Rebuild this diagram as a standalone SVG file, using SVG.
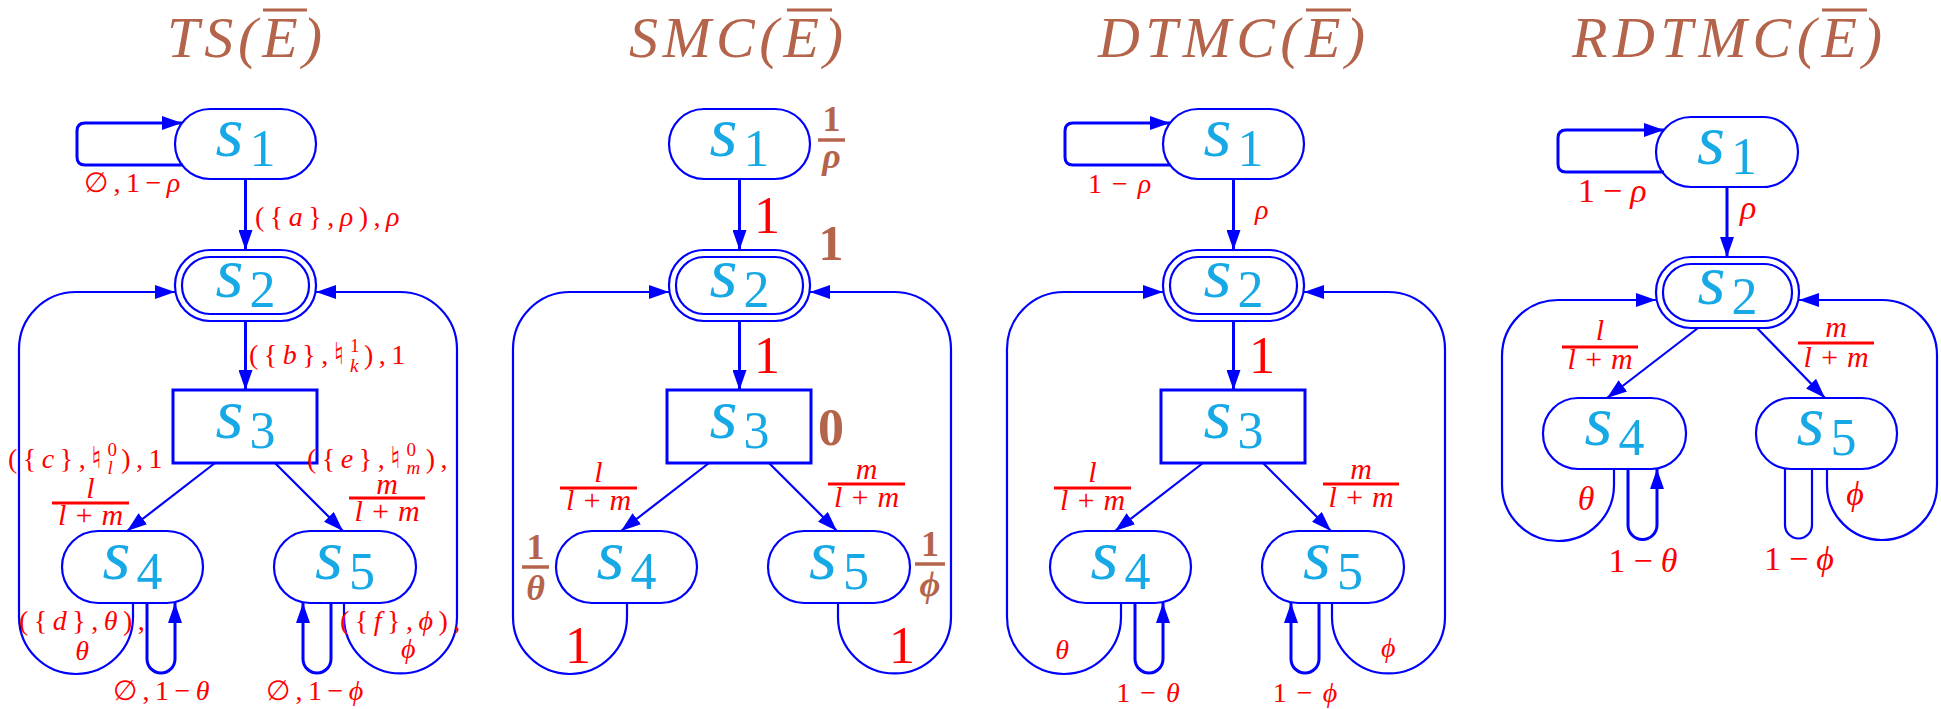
<svg xmlns="http://www.w3.org/2000/svg" width="1941" height="709" viewBox="0 0 1941 709">
<style>
.n{fill:none;stroke:#0000FF;stroke-width:2.2}
.n3{fill:none;stroke:#0000FF;stroke-width:3}
.c{fill:none;stroke:#0000FF;stroke-width:2.2}
.ct{stroke-width:3}
.nl{font-family:"Liberation Serif","DejaVu Serif",serif;font-size:72px;fill:#17A9E6;text-anchor:middle}
.nl .s{font-style:italic}
.sub{font-size:52px}
.t{font-family:"Liberation Serif",serif;font-style:italic;font-size:58px;fill:#B4644A}
.ol{stroke:#B4644A;stroke-width:3}
.e{font-family:"Liberation Serif","DejaVu Serif",serif;font-size:28px;fill:#FF0000;letter-spacing:5.5px}
.e3{letter-spacing:10px}
.e4{font-size:34px;letter-spacing:8px}
.m{text-anchor:middle}
.i{font-style:italic}
.big{font-family:"Liberation Serif",serif;font-size:52px;fill:#FF0000;text-anchor:middle}
.b{font-family:"Liberation Serif","DejaVu Serif",serif;font-weight:bold;fill:#B4644A;text-anchor:middle}
.fb{stroke:#FF0000;stroke-width:3}
.bb{stroke:#B4644A;stroke-width:3.5}
.fr{font-family:"Liberation Serif",serif;font-style:italic;font-size:30px;fill:#FF0000;text-anchor:middle}
.ss{font-size:19px}
.nat{font-size:30px}
</style>
<defs>
<marker id="ah" markerUnits="userSpaceOnUse" markerWidth="20" markerHeight="14" refX="20" refY="7" orient="auto">
<path d="M0,0 L20,7 L0,14 z" fill="#0000FF"/>
</marker>
</defs>

<!-- Titles -->
<g id="titles">
<text class="t" x="167" y="57" textLength="155" lengthAdjust="spacing">TS(E)</text>
<line class="ol" x1="263" y1="10" x2="307" y2="10"/>
<text class="t" x="629" y="57" textLength="214" lengthAdjust="spacing">SMC(E)</text>
<line class="ol" x1="787" y1="10" x2="832" y2="10"/>
<text class="t" x="1098" y="57" textLength="267" lengthAdjust="spacing">DTMC(E)</text>
<line class="ol" x1="1306" y1="10" x2="1351" y2="10"/>
<text class="t" x="1572" y="57" textLength="310" lengthAdjust="spacing">RDTMC(E)</text>
<line class="ol" x1="1822" y1="10" x2="1867" y2="10"/>
</g>

<!-- ===== Panel 1: TS ===== -->
<g id="ts">
<g id="ts-s1"><rect class="n" x="175" y="109" width="141" height="70" rx="35"/><text class="nl" x="245.5" y="156"><tspan class="s">s</tspan><tspan class="sub" dx="6" dy="10">1</tspan></text></g>
<g id="ts-s2"><rect class="n" x="175" y="250" width="141" height="71" rx="35"/><rect class="n" x="182" y="257" width="127" height="57" rx="28"/><text class="nl" x="245.5" y="297"><tspan class="s">s</tspan><tspan class="sub" dx="6" dy="10">2</tspan></text></g>
<g id="ts-s3"><rect class="n3" x="173" y="390" width="144" height="73"/><text class="nl" x="245.5" y="438"><tspan class="s">s</tspan><tspan class="sub" dx="6" dy="10">3</tspan></text></g>
<g id="ts-s4"><rect class="n" x="62" y="531" width="141" height="72" rx="36"/><text class="nl" x="132.5" y="579"><tspan class="s">s</tspan><tspan class="sub" dx="6" dy="10">4</tspan></text></g>
<g id="ts-s5"><rect class="n" x="274" y="531" width="142" height="72" rx="36"/><text class="nl" x="345" y="579"><tspan class="s">s</tspan><tspan class="sub" dx="6" dy="10">5</tspan></text></g>
<g id="ts-edges">
<path class="c ct" d="M183,165 H85 Q77,165 77,157 V131 Q77,123 85,123 H182" marker-end="url(#ah)"/>
<path class="c ct" d="M245.5,179 V250" marker-end="url(#ah)"/>
<path class="c ct" d="M245.5,321 V390" marker-end="url(#ah)"/>
<path class="c" d="M215,463 L127,531" marker-end="url(#ah)"/>
<path class="c" d="M275,463 L343,531" marker-end="url(#ah)"/>
<path class="c" d="M133,603 V617 A57,57 0 0 1 19,617 V349 A57,57 0 0 1 76,292 H175" marker-end="url(#ah)"/>
<path class="c" d="M344,603 V617 A56.5,56.5 0 0 0 457,617 V349 A57,57 0 0 0 400,292 H316" marker-end="url(#ah)"/>
<path class="c ct" d="M147,603 V659 A14,14 0 0 0 175,659 V603" marker-end="url(#ah)"/>
<path class="c ct" d="M331,603 V659 A14,14 0 0 1 303,659 V603" marker-end="url(#ah)"/>
</g>
<g id="ts-labels">
<text class="e" x="84" y="192">∅,1−<tspan class="i">ρ</tspan></text>
<text class="e" x="255" y="226">({<tspan class="i">a</tspan>},<tspan class="i">ρ</tspan>),<tspan class="i">ρ</tspan></text>
<text class="e" x="249" y="364">({<tspan class="i">b</tspan>},<tspan class="nat">♮</tspan><tspan class="ss" dy="-12">1</tspan><tspan class="ss i" dx="-15" dy="20">k</tspan><tspan dy="-8">),1</tspan></text>
<text class="e" x="8" y="468">({<tspan class="i">c</tspan>},<tspan class="nat">♮</tspan><tspan class="ss" dy="-12">0</tspan><tspan class="ss i" dx="-15" dy="18">l</tspan><tspan dx="3" dy="-6">),1</tspan></text>
<text class="e" x="307" y="468">({<tspan class="i">e</tspan>},<tspan class="nat">♮</tspan><tspan class="ss" dy="-12">0</tspan><tspan class="ss i" dx="-15" dy="18">m</tspan><tspan dy="-6">),</tspan></text>
<text class="fr" x="90.5" y="498">l</text><line class="fb" x1="52" y1="503" x2="129" y2="503"/><text class="fr" x="90.5" y="525">l + m</text>
<text class="fr" x="387" y="494">m</text><line class="fb" x1="349" y1="498" x2="425" y2="498"/><text class="fr" x="387" y="521">l + m</text>
<text class="e" x="19" y="630">({<tspan class="i">d</tspan>},<tspan class="i">θ</tspan>),</text>
<text class="e m i" x="85" y="660">θ</text>
<text class="e" x="340" y="630">({<tspan class="i">f</tspan>},<tspan class="i">ϕ</tspan>),</text>
<text class="e m i" x="411" y="658">ϕ</text>
<text class="e" x="113" y="700">∅,1−<tspan class="i">θ</tspan></text>
<text class="e" x="266" y="700">∅,1−<tspan class="i">ϕ</tspan></text>
</g>
</g>

<!-- ===== Panel 2: SMC ===== -->
<g id="smc" transform="translate(494,0)">
<g id="smc-s1"><rect class="n" x="175" y="109" width="141" height="70" rx="35"/><text class="nl" x="245.5" y="156"><tspan class="s">s</tspan><tspan class="sub" dx="6" dy="10">1</tspan></text></g>
<g id="smc-s2"><rect class="n" x="175" y="250" width="141" height="71" rx="35"/><rect class="n" x="182" y="257" width="127" height="57" rx="28"/><text class="nl" x="245.5" y="297"><tspan class="s">s</tspan><tspan class="sub" dx="6" dy="10">2</tspan></text></g>
<g id="smc-s3"><rect class="n3" x="173" y="390" width="144" height="73"/><text class="nl" x="245.5" y="438"><tspan class="s">s</tspan><tspan class="sub" dx="6" dy="10">3</tspan></text></g>
<g id="smc-s4"><rect class="n" x="62" y="531" width="141" height="72" rx="36"/><text class="nl" x="132.5" y="579"><tspan class="s">s</tspan><tspan class="sub" dx="6" dy="10">4</tspan></text></g>
<g id="smc-s5"><rect class="n" x="274" y="531" width="142" height="72" rx="36"/><text class="nl" x="345" y="579"><tspan class="s">s</tspan><tspan class="sub" dx="6" dy="10">5</tspan></text></g>
<g id="smc-edges">
<path class="c ct" d="M245.5,179 V250" marker-end="url(#ah)"/>
<path class="c ct" d="M245.5,321 V390" marker-end="url(#ah)"/>
<path class="c" d="M215,463 L127,531" marker-end="url(#ah)"/>
<path class="c" d="M275,463 L343,531" marker-end="url(#ah)"/>
<path class="c" d="M133,603 V617 A57,57 0 0 1 19,617 V349 A57,57 0 0 1 76,292 H175" marker-end="url(#ah)"/>
<path class="c" d="M344,603 V617 A56.5,56.5 0 0 0 457,617 V349 A57,57 0 0 0 400,292 H316" marker-end="url(#ah)"/>
</g>
<g id="smc-labels">
<text class="big" x="273" y="233">1</text>
<text class="big" x="273" y="373">1</text>
<text class="b" x="337.5" y="131" font-size="36">1</text><line class="bb" x1="324" y1="140" x2="351" y2="140"/><text class="b i" x="337.5" y="168" font-size="36">ρ</text>
<text class="b" x="337" y="260" font-size="50">1</text>
<text class="b" x="337" y="445" font-size="52">0</text>
<text class="fr" x="104.5" y="482">l</text><line class="fb" x1="66" y1="488" x2="143" y2="488"/><text class="fr" x="104.5" y="510">l + m</text>
<text class="fr" x="372.5" y="479">m</text><line class="fb" x1="334" y1="484" x2="411" y2="484"/><text class="fr" x="372.5" y="507">l + m</text>
<text class="b" x="41.5" y="559" font-size="36">1</text><line class="bb" x1="28" y1="567" x2="55" y2="567"/><text class="b i" x="41.5" y="600" font-size="36">θ</text>
<text class="b" x="436" y="556" font-size="36">1</text><line class="bb" x1="421" y1="564" x2="451" y2="564"/><text class="b i" x="436" y="596" font-size="36">ϕ</text>
<text class="big" x="84" y="663">1</text>
<text class="big" x="408" y="663">1</text>
</g>
</g>

<!-- ===== Panel 3: DTMC ===== -->
<g id="dtmc" transform="translate(988,0)">
<g id="dtmc-s1"><rect class="n" x="175" y="109" width="141" height="70" rx="35"/><text class="nl" x="245.5" y="156"><tspan class="s">s</tspan><tspan class="sub" dx="6" dy="10">1</tspan></text></g>
<g id="dtmc-s2"><rect class="n" x="175" y="250" width="141" height="71" rx="35"/><rect class="n" x="182" y="257" width="127" height="57" rx="28"/><text class="nl" x="245.5" y="297"><tspan class="s">s</tspan><tspan class="sub" dx="6" dy="10">2</tspan></text></g>
<g id="dtmc-s3"><rect class="n3" x="173" y="390" width="144" height="73"/><text class="nl" x="245.5" y="438"><tspan class="s">s</tspan><tspan class="sub" dx="6" dy="10">3</tspan></text></g>
<g id="dtmc-s4"><rect class="n" x="62" y="531" width="141" height="72" rx="36"/><text class="nl" x="132.5" y="579"><tspan class="s">s</tspan><tspan class="sub" dx="6" dy="10">4</tspan></text></g>
<g id="dtmc-s5"><rect class="n" x="274" y="531" width="142" height="72" rx="36"/><text class="nl" x="345" y="579"><tspan class="s">s</tspan><tspan class="sub" dx="6" dy="10">5</tspan></text></g>
<g id="dtmc-edges">
<path class="c ct" d="M183,165 H85 Q77,165 77,157 V131 Q77,123 85,123 H182" marker-end="url(#ah)"/>
<path class="c ct" d="M245.5,179 V250" marker-end="url(#ah)"/>
<path class="c ct" d="M245.5,321 V390" marker-end="url(#ah)"/>
<path class="c" d="M215,463 L127,531" marker-end="url(#ah)"/>
<path class="c" d="M275,463 L343,531" marker-end="url(#ah)"/>
<path class="c" d="M133,603 V617 A57,57 0 0 1 19,617 V349 A57,57 0 0 1 76,292 H175" marker-end="url(#ah)"/>
<path class="c" d="M344,603 V617 A56.5,56.5 0 0 0 457,617 V349 A57,57 0 0 0 400,292 H316" marker-end="url(#ah)"/>
<path class="c ct" d="M147,603 V659 A14,14 0 0 0 175,659 V603" marker-end="url(#ah)"/>
<path class="c ct" d="M331,603 V659 A14,14 0 0 1 303,659 V603" marker-end="url(#ah)"/>
</g>
<g id="dtmc-labels">
<text class="e e3" x="100" y="193">1−<tspan class="i">ρ</tspan></text>
<text class="e i" x="267" y="219">ρ</text>
<text class="big" x="274" y="373">1</text>
<text class="fr" x="104.5" y="482">l</text><line class="fb" x1="66" y1="488" x2="143" y2="488"/><text class="fr" x="104.5" y="510">l + m</text>
<text class="fr" x="373" y="479">m</text><line class="fb" x1="335" y1="484" x2="411" y2="484"/><text class="fr" x="373" y="507">l + m</text>
<text class="e m i" x="77" y="659">θ</text>
<text class="e e3 m" x="165" y="702">1−<tspan class="i">θ</tspan></text>
<text class="e e3 m" x="322" y="702">1−<tspan class="i">ϕ</tspan></text>
<text class="e m i" x="403" y="657">ϕ</text>
</g>
</g>

<!-- ===== Panel 4: RDTMC ===== -->
<g id="rdtmc">
<g id="rdtmc-s1"><rect class="n" x="1656" y="117" width="142" height="70" rx="35"/><text class="nl" x="1727" y="164"><tspan class="s">s</tspan><tspan class="sub" dx="6" dy="10">1</tspan></text></g>
<g id="rdtmc-s2"><rect class="n" x="1656" y="257" width="143" height="71" rx="35"/><rect class="n" x="1663" y="264" width="129" height="57" rx="28"/><text class="nl" x="1727.5" y="304"><tspan class="s">s</tspan><tspan class="sub" dx="6" dy="10">2</tspan></text></g>
<g id="rdtmc-s4"><rect class="n" x="1543" y="398" width="143" height="71" rx="35"/><text class="nl" x="1614.5" y="445"><tspan class="s">s</tspan><tspan class="sub" dx="6" dy="10">4</tspan></text></g>
<g id="rdtmc-s5"><rect class="n" x="1756" y="398" width="141" height="71" rx="35"/><text class="nl" x="1826.5" y="445"><tspan class="s">s</tspan><tspan class="sub" dx="6" dy="10">5</tspan></text></g>
<g id="rdtmc-edges">
<path class="c ct" d="M1664,172 H1566 Q1558,172 1558,164 V138 Q1558,130 1566,130 H1664" marker-end="url(#ah)"/>
<path class="c ct" d="M1727,187 V257" marker-end="url(#ah)"/>
<path class="c" d="M1698,328 L1607,398" marker-end="url(#ah)"/>
<path class="c" d="M1757,328 L1825,398" marker-end="url(#ah)"/>
<path class="c" d="M1614,469 V485 A56,56 0 0 1 1502,485 V356 A56,56 0 0 1 1558,300 H1656" marker-end="url(#ah)"/>
<path class="c" d="M1827,469 V485 A55,55 0 0 0 1937,485 V355 A55,55 0 0 0 1882,300 H1799" marker-end="url(#ah)"/>
<path class="c ct" d="M1628,469 V525 A14.5,14.5 0 0 0 1657,525 V469" marker-end="url(#ah)"/>
<path class="c" d="M1785,469 V525 A13.5,13.5 0 0 0 1812,525 V469"/>
</g>
<g id="rdtmc-labels">
<text class="e e4" x="1578" y="202">1−<tspan class="i">ρ</tspan></text>
<text class="e e4 i" x="1740" y="219">ρ</text>
<text class="fr" x="1600" y="340">l</text><line class="fb" x1="1562" y1="347" x2="1638" y2="347"/><text class="fr" x="1600" y="369">l + m</text>
<text class="fr" x="1836" y="337">m</text><line class="fb" x1="1798" y1="343" x2="1874" y2="343"/><text class="fr" x="1836" y="367">l + m</text>
<text class="e e4 m i" x="1590" y="510">θ</text>
<text class="e e4 m" x="1647" y="572">1−<tspan class="i">θ</tspan></text>
<text class="e e4 m i" x="1859" y="505">ϕ</text>
<text class="e e4 m" x="1803" y="570">1−<tspan class="i">ϕ</tspan></text>
</g>
</g>
</svg>
